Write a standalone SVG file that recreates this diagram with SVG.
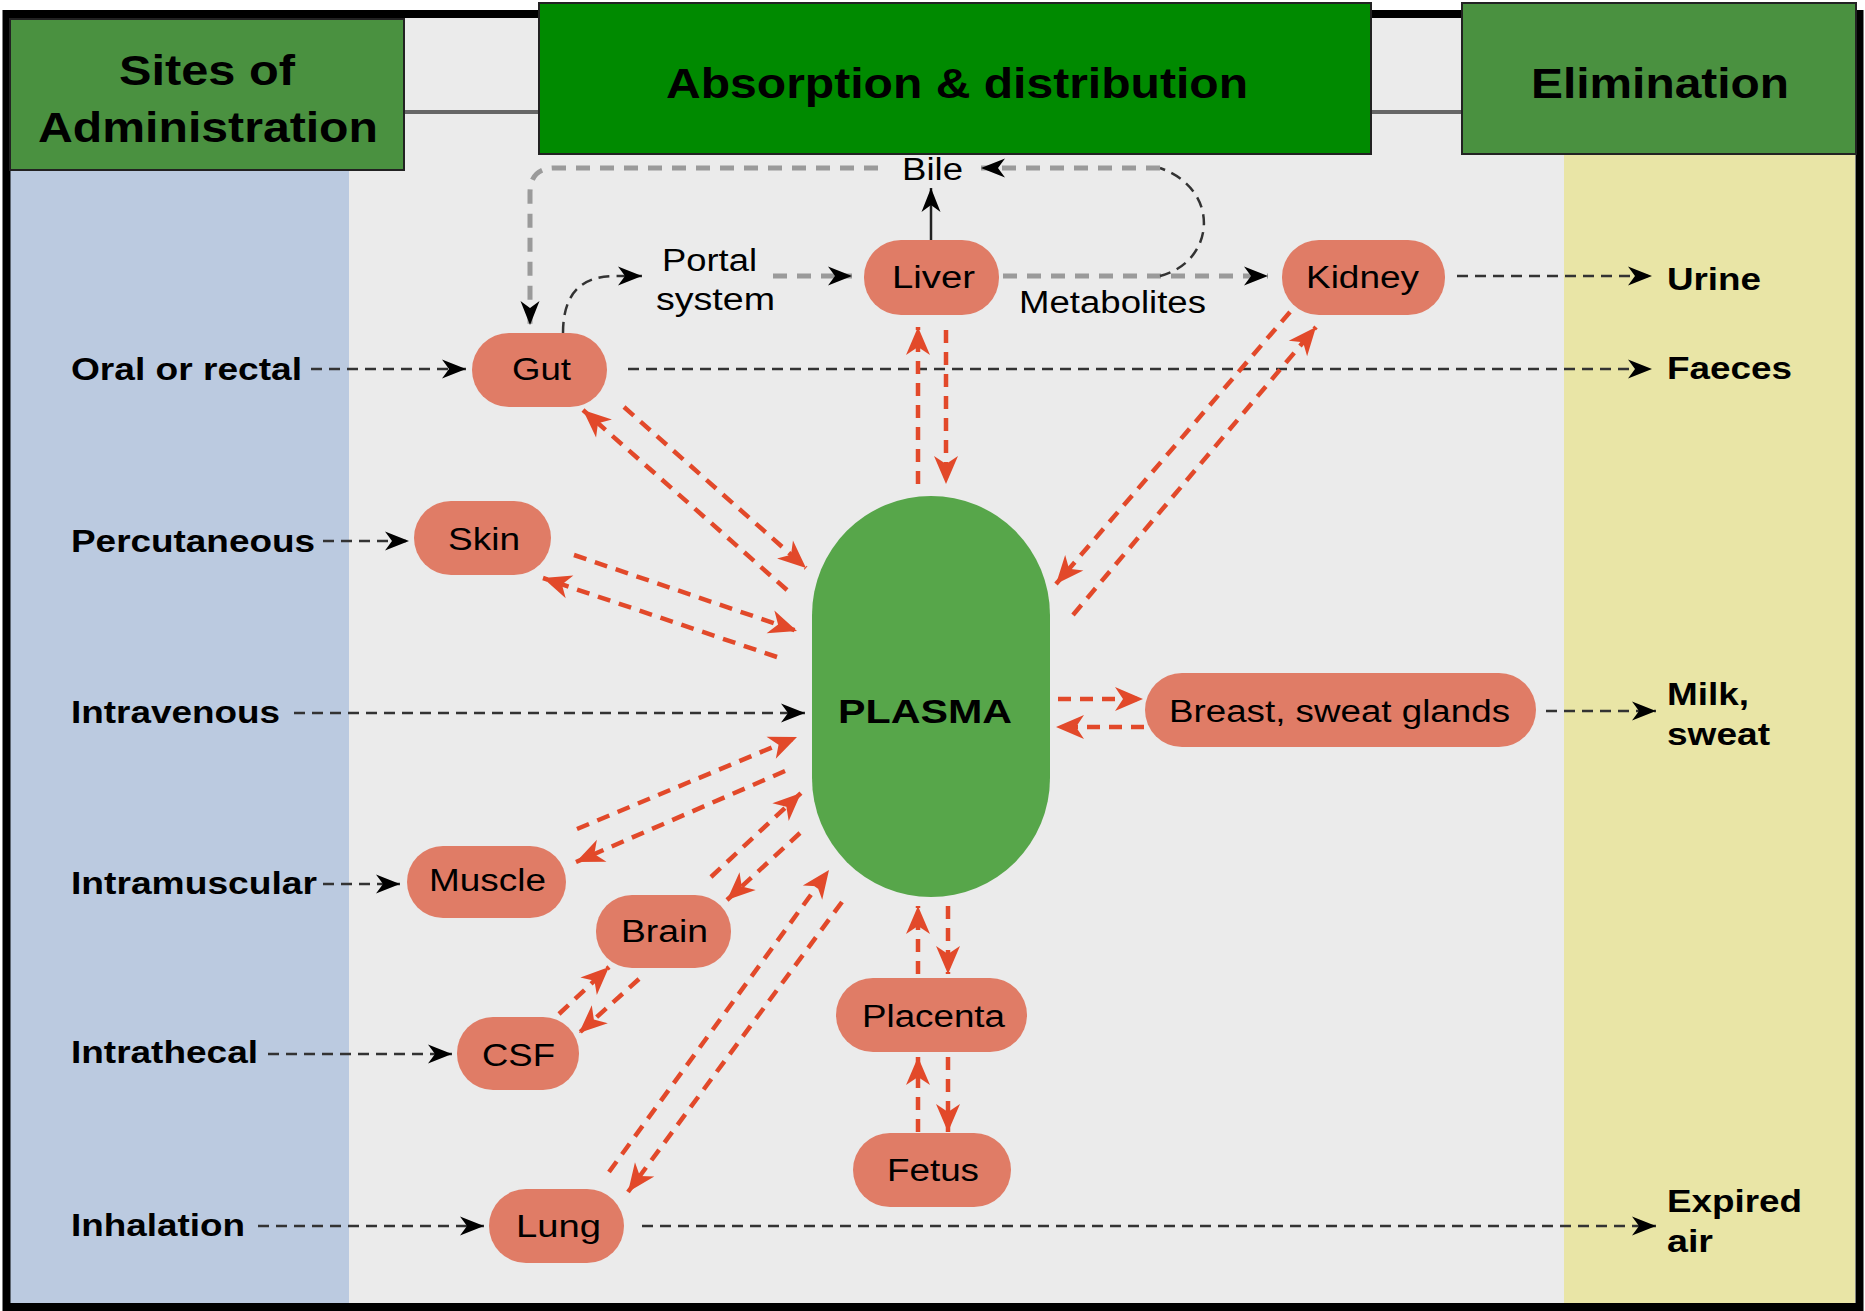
<svg xmlns="http://www.w3.org/2000/svg" width="1865" height="1311" viewBox="0 0 1865 1311">
<defs>
<style>
.t{font-family:"Liberation Sans",Arial,Helvetica,sans-serif;fill:#000}
.b{font-weight:bold}
.hd{font-size:42px;font-weight:bold}
.n{font-size:31px}
.lb{font-size:31px;font-weight:bold}
.node{fill:#E07C66}
.blk{fill:none;stroke:#333;stroke-width:2.5;stroke-dasharray:11 7}
.gry{fill:none;stroke:#9a9a9a;stroke-width:5;stroke-dasharray:14 10}
.red{fill:none;stroke:#E2492A;stroke-width:4.5;stroke-dasharray:13 9}
.hdr{stroke:#222;stroke-width:2}
</style>
<marker id="ab" viewBox="-26 -11 28 22" refX="0" refY="0" markerWidth="28" markerHeight="22" markerUnits="userSpaceOnUse" orient="auto">
<path d="M0,0 L-24,-9.5 L-17,0 L-24,9.5 Z" fill="#000"/>
</marker>
<marker id="ar" viewBox="-30 -14 32 28" refX="0" refY="0" markerWidth="32" markerHeight="28" markerUnits="userSpaceOnUse" orient="auto">
<path d="M0,0 L-28,-12 L-20,0 L-28,12 Z" fill="#E2492A"/>
</marker>
</defs>

<g id="background">
<rect x="0" y="0" width="1865" height="1311" fill="#ffffff"/>
<rect x="10" y="18" width="1845" height="1287" fill="#EBEBEB"/>
<rect x="10" y="170" width="339" height="1135" fill="#BBCAE0"/>
<rect x="1564" y="154" width="291" height="1151" fill="#E9E5A6"/>
<rect x="6.5" y="14" width="1853" height="1293" fill="none" stroke="#000" stroke-width="8"/>
<line x1="404" y1="112" x2="539" y2="112" stroke="#666" stroke-width="4"/>
<line x1="1371" y1="112" x2="1462" y2="112" stroke="#666" stroke-width="4"/>
</g>

<g id="header-sites">
<rect class="hdr" x="10" y="19" width="394" height="151" fill="#4A9140"/>
<text class="t hd" x="119" y="85" textLength="176" lengthAdjust="spacingAndGlyphs">Sites of</text>
<text class="t hd" x="38" y="142" textLength="340" lengthAdjust="spacingAndGlyphs">Administration</text>
</g>
<g id="header-absorption">
<rect class="hdr" x="539" y="3" width="832" height="151" fill="#008A00"/>
<text class="t hd" x="666" y="98" textLength="582" lengthAdjust="spacingAndGlyphs">Absorption &amp; distribution</text>
</g>
<g id="header-elimination">
<rect class="hdr" x="1462" y="3" width="394" height="151" fill="#4A9140"/>
<text class="t hd" x="1531" y="98" textLength="258" lengthAdjust="spacingAndGlyphs">Elimination</text>
</g>

<g id="connectors">
<path class="blk" d="M311,369 H466" marker-end="url(#ab)"/>
<path class="blk" d="M323,541 H409" marker-end="url(#ab)"/>
<path class="blk" d="M294,713 H805" marker-end="url(#ab)"/>
<path class="blk" d="M323,884 H400" marker-end="url(#ab)"/>
<path class="blk" d="M268,1054 H452" marker-end="url(#ab)"/>
<path class="blk" d="M258,1226 H484" marker-end="url(#ab)"/>
<path class="blk" d="M628,369 H1652" marker-end="url(#ab)"/>
<path class="blk" d="M1457,276 H1652" marker-end="url(#ab)"/>
<path class="blk" d="M1546,711 H1656" marker-end="url(#ab)"/>
<path class="blk" d="M642,1226 H1656" marker-end="url(#ab)"/>
<path class="gry" d="M1003,276 H1268" marker-end="url(#ab)"/>
<path class="gry" d="M773,276 H852" marker-end="url(#ab)"/>
<path class="blk" d="M563,333 C563,295 580,276 615,276 L642,276" marker-end="url(#ab)"/>
<path class="gry" d="M878,168 H555 Q530,168 530,193 V325" marker-end="url(#ab)"/>
<path d="M931,240 V188" fill="none" stroke="#222" stroke-width="2.5" marker-end="url(#ab)"/>
<path class="blk" d="M1160,276 C1215,262 1222,190 1160,168"/>
<path class="gry" d="M1160,168 H981" marker-end="url(#ab)"/>

<path class="red" d="M787,590 L583,410" marker-end="url(#ar)"/>
<path class="red" d="M624,407 L806,568" marker-end="url(#ar)"/>
<path class="red" d="M574,555 L797,631" marker-end="url(#ar)"/>
<path class="red" d="M777,657 L543,578" marker-end="url(#ar)"/>
<path class="red" d="M577,829 L797,737" marker-end="url(#ar)"/>
<path class="red" d="M785,771 L576,862" marker-end="url(#ar)"/>
<path class="red" d="M711,877 L801,793" marker-end="url(#ar)"/>
<path class="red" d="M800,833 L727,900" marker-end="url(#ar)"/>
<path class="red" d="M609,1172 L829,870" marker-end="url(#ar)"/>
<path class="red" d="M842,902 L628,1192" marker-end="url(#ar)"/>
<path class="red" d="M559,1014 L609,967" marker-end="url(#ar)"/>
<path class="red" d="M639,979 L579,1033" marker-end="url(#ar)"/>
<path class="red" d="M918,484 V327" marker-end="url(#ar)"/>
<path class="red" d="M946,330 V484" marker-end="url(#ar)"/>
<path class="red" d="M1073,615 L1316,327" marker-end="url(#ar)"/>
<path class="red" d="M1290,312 L1056,584" marker-end="url(#ar)"/>
<path class="red" d="M1058,699 H1143" marker-end="url(#ar)"/>
<path class="red" d="M1144,727 H1056" marker-end="url(#ar)"/>
<path class="red" d="M918,974 V906" marker-end="url(#ar)"/>
<path class="red" d="M948,906 V974" marker-end="url(#ar)"/>
<path class="red" d="M918,1132 V1057" marker-end="url(#ar)"/>
<path class="red" d="M948,1057 V1132" marker-end="url(#ar)"/>
</g>

<g id="connector-labels">
<text class="t n" x="902" y="180" textLength="61" lengthAdjust="spacingAndGlyphs">Bile</text>
<text class="t n" x="662" y="271" textLength="95" lengthAdjust="spacingAndGlyphs">Portal</text>
<text class="t n" x="656" y="310" textLength="119" lengthAdjust="spacingAndGlyphs">system</text>
<text class="t n" x="1019" y="313" textLength="187" lengthAdjust="spacingAndGlyphs">Metabolites</text>
</g>

<g id="node-gut"><rect class="node" x="472" y="333" width="135" height="74" rx="37"/><text class="t n" x="512" y="380" textLength="59" lengthAdjust="spacingAndGlyphs">Gut</text></g>
<g id="node-liver"><rect class="node" x="864" y="240" width="135" height="75" rx="37"/><text class="t n" x="892" y="288" textLength="83" lengthAdjust="spacingAndGlyphs">Liver</text></g>
<g id="node-kidney"><rect class="node" x="1282" y="240" width="163" height="75" rx="37"/><text class="t n" x="1306" y="288" textLength="113" lengthAdjust="spacingAndGlyphs">Kidney</text></g>
<g id="node-skin"><rect class="node" x="414" y="501" width="137" height="74" rx="37"/><text class="t n" x="448" y="550" textLength="72" lengthAdjust="spacingAndGlyphs">Skin</text></g>
<g id="node-plasma"><rect x="812" y="496" width="238" height="401" rx="119" fill="#57A64A"/><text class="t b" style="font-size:34px" x="838" y="723" textLength="174" lengthAdjust="spacingAndGlyphs">PLASMA</text></g>
<g id="node-breast"><rect class="node" x="1145" y="673" width="391" height="74" rx="37"/><text class="t n" x="1169" y="722" textLength="341" lengthAdjust="spacingAndGlyphs">Breast, sweat glands</text></g>
<g id="node-muscle"><rect class="node" x="407" y="846" width="159" height="72" rx="36"/><text class="t n" x="429" y="891" textLength="117" lengthAdjust="spacingAndGlyphs">Muscle</text></g>
<g id="node-brain"><rect class="node" x="596" y="895" width="135" height="73" rx="36"/><text class="t n" x="621" y="942" textLength="87" lengthAdjust="spacingAndGlyphs">Brain</text></g>
<g id="node-csf"><rect class="node" x="457" y="1017" width="122" height="73" rx="36"/><text class="t n" x="482" y="1066" textLength="73" lengthAdjust="spacingAndGlyphs">CSF</text></g>
<g id="node-lung"><rect class="node" x="489" y="1189" width="135" height="74" rx="37"/><text class="t n" x="516" y="1237" textLength="85" lengthAdjust="spacingAndGlyphs">Lung</text></g>
<g id="node-placenta"><rect class="node" x="836" y="978" width="191" height="74" rx="37"/><text class="t n" x="862" y="1027" textLength="143" lengthAdjust="spacingAndGlyphs">Placenta</text></g>
<g id="node-fetus"><rect class="node" x="853" y="1133" width="158" height="74" rx="37"/><text class="t n" x="887" y="1181" textLength="92" lengthAdjust="spacingAndGlyphs">Fetus</text></g>

<g id="site-oral"><text class="t lb" x="71" y="380" textLength="231" lengthAdjust="spacingAndGlyphs">Oral or rectal</text></g>
<g id="site-percutaneous"><text class="t lb" x="71" y="552" textLength="244" lengthAdjust="spacingAndGlyphs">Percutaneous</text></g>
<g id="site-intravenous"><text class="t lb" x="71" y="723" textLength="209" lengthAdjust="spacingAndGlyphs">Intravenous</text></g>
<g id="site-intramuscular"><text class="t lb" x="71" y="894" textLength="246" lengthAdjust="spacingAndGlyphs">Intramuscular</text></g>
<g id="site-intrathecal"><text class="t lb" x="71" y="1063" textLength="187" lengthAdjust="spacingAndGlyphs">Intrathecal</text></g>
<g id="site-inhalation"><text class="t lb" x="71" y="1236" textLength="174" lengthAdjust="spacingAndGlyphs">Inhalation</text></g>

<g id="out-urine"><text class="t lb" x="1667" y="290" textLength="94" lengthAdjust="spacingAndGlyphs">Urine</text></g>
<g id="out-faeces"><text class="t lb" x="1667" y="379" textLength="125" lengthAdjust="spacingAndGlyphs">Faeces</text></g>
<g id="out-milk"><text class="t lb" x="1667" y="705" textLength="82" lengthAdjust="spacingAndGlyphs">Milk,</text><text class="t lb" x="1667" y="745" textLength="103" lengthAdjust="spacingAndGlyphs">sweat</text></g>
<g id="out-air"><text class="t lb" x="1667" y="1212" textLength="135" lengthAdjust="spacingAndGlyphs">Expired</text><text class="t lb" x="1667" y="1252" textLength="46" lengthAdjust="spacingAndGlyphs">air</text></g>
</svg>
